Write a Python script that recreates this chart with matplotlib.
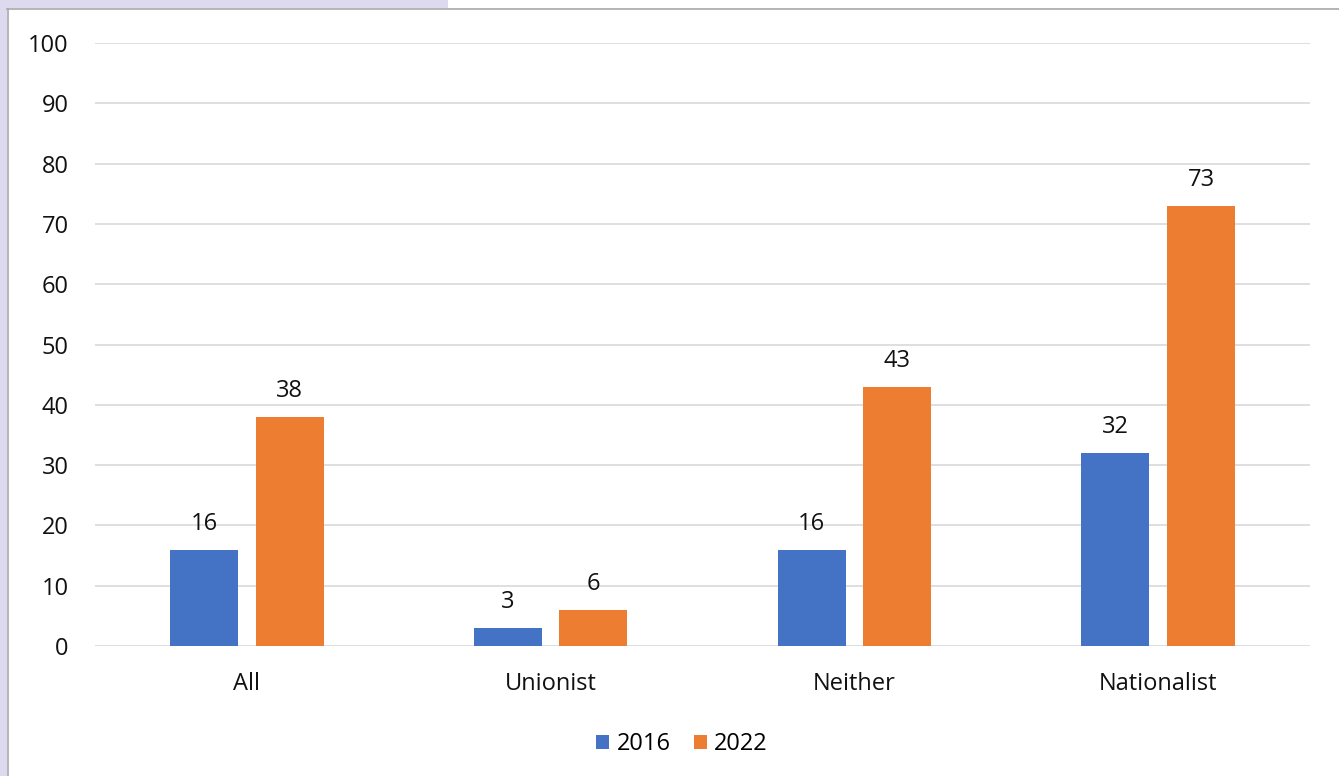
import matplotlib
matplotlib.use("Agg")
import matplotlib.pyplot as plt
import numpy as np
from matplotlib.patches import Rectangle
from matplotlib.lines import Line2D

categories = ["All", "Unionist", "Neither", "Nationalist"]
series_names = ["2016", "2022"]
values_2016 = [16, 3, 16, 32]
values_2022 = [38, 6, 43, 73]
yticks = [0, 10, 20, 30, 40, 50, 60, 70, 80, 90, 100]

plt.rcParams['font.family'] = ['Open Sans', 'DejaVu Sans']

W, H = 1339, 776
fig = plt.figure(figsize=(W / 100, H / 100), dpi=100)
fig.patch.set_facecolor("white")

# screenshot frame
fig.patches.append(Rectangle((0, 1 - 8 / H), 448 / W, 8 / H, transform=fig.transFigure,
                             facecolor="#DDD9EE", edgecolor="none", zorder=0))
fig.patches.append(Rectangle((0, 0), 7 / W, 1, transform=fig.transFigure,
                             facecolor="#DDD9EE", edgecolor="none", zorder=0))
fig.lines.append(Line2D([7 / W, 1], [1 - 8.5 / H, 1 - 8.5 / H], transform=fig.transFigure,
                        color="#A8A8A8", lw=1.2))
fig.lines.append(Line2D([7.5 / W, 7.5 / W], [0, 1 - 8.5 / H], transform=fig.transFigure,
                        color="#A8A8A8", lw=1.2))

ax = fig.add_axes([95 / W, 1 - 646 / H, (1310 - 95) / W, (646 - 43) / H])
ax.set_facecolor("none")

x = np.arange(len(categories))
bw = 0.224
off = 0.141
colors = ["#4472C4", "#ED7D31"]
b1 = ax.bar(x - off, values_2016, bw, color=colors[0], zorder=3, label=series_names[0])
b2 = ax.bar(x + off, values_2022, bw, color=colors[1], zorder=3, label=series_names[1])

FS = 17
TXT = "#111111"
for bars, vals in ((b1, values_2016), (b2, values_2022)):
    for r, v in zip(bars, vals):
        ax.annotate(str(v), (r.get_x() + r.get_width() / 2, v), xytext=(0, 10),
                    textcoords="offset points", ha="center", va="bottom",
                    fontsize=FS, color=TXT)

ax.set_xlim(-0.5, 3.5)
ax.set_ylim(0, 100)
ax.set_yticks(yticks)
ax.set_yticklabels([str(t) for t in yticks])
ax.set_xticks(x)
ax.set_xticklabels(categories)
ax.tick_params(axis="y", length=0, pad=19, labelsize=FS, labelcolor=TXT)
ax.tick_params(axis="x", length=0, pad=19, labelsize=FS, labelcolor=TXT)
ax.grid(axis="y", color="#D9D9D9", lw=1.2, zorder=0)
ax.set_axisbelow(True)
for s in ax.spines.values():
    s.set_visible(False)

leg = fig.legend(handles=[b1, b2], labels=series_names, loc="center",
                 bbox_to_anchor=(682 / W, 1 - 744 / H), ncol=2, frameon=False,
                 fontsize=FS, handlelength=0.55, handleheight=0.55, handletextpad=0.3,
                 columnspacing=1.0)

fig.savefig("out.png", dpi=100, facecolor=fig.get_facecolor())
